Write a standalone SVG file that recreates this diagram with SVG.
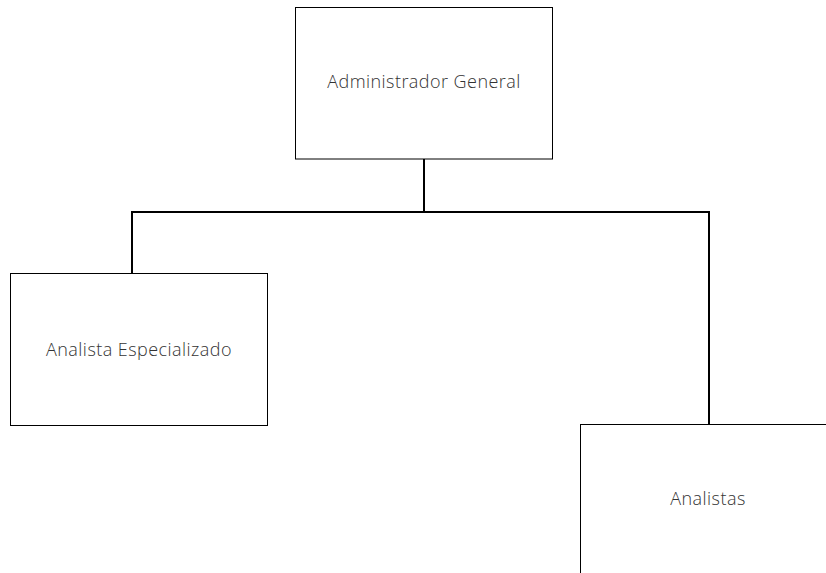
<svg xmlns="http://www.w3.org/2000/svg" width="826" height="573" viewBox="0 0 826 573">
  <style>
    .box { fill: #ffffff; stroke: #000000; stroke-width: 1; }
    .label { font-family: "Open Sans", Lato, "Liberation Sans", sans-serif; font-weight: 300; font-size: 18px; letter-spacing: 0.45px; fill: #333333; text-anchor: middle; }
    .link { fill: none; stroke: #000000; stroke-width: 2; }
  </style>
  <rect width="826" height="573" fill="#ffffff"/>
  <g id="connectors">
    <path class="link" d="M424 159 V212"/>
    <path class="link" d="M132 273.5 V212 H709 V424.5"/>
  </g>
  <g id="admin-general">
    <rect class="box" x="295.5" y="7.5" width="257" height="151.5"/>
    <text class="label" x="424" y="88">Administrador General</text>
  </g>
  <g id="analista-especializado">
    <rect class="box" x="10.5" y="273.5" width="257" height="152"/>
    <text class="label" x="139" y="356">Analista Especializado</text>
  </g>
  <g id="analistas">
    <rect class="box" x="580.5" y="424.5" width="257" height="152"/>
    <text class="label" x="708" y="505">Analistas</text>
  </g>
</svg>
